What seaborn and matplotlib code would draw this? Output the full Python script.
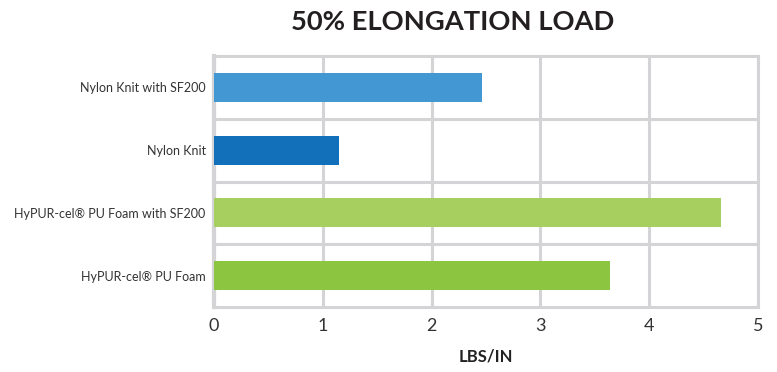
import matplotlib
matplotlib.use("Agg")
import matplotlib.pyplot as plt
import seaborn as sns
import pandas as pd
from matplotlib.ticker import FixedLocator

categories = ["Nylon Knit with SF200", "Nylon Knit", "HyPUR-cel® PU Foam with SF200", "HyPUR-cel® PU Foam"]
values = [2.46, 1.15, 4.66, 3.64]
colors = ["#4398D3", "#1270BA", "#A6CF5F", "#8CC540"]
x_ticks = [0, 1, 2, 3, 4, 5]

sns.set_theme(style="white")
plt.rcParams['font.family'] = ['Lato', 'DejaVu Sans']

df = pd.DataFrame({"category": categories, "value": values})

fig = plt.figure(figsize=(7.77, 3.72), dpi=100)
ax = fig.add_axes([214/777, 1-307/372, (758-214)/777, (307-56)/372])

sns.barplot(data=df, x="value", y="category", hue="category", palette=colors,
            width=0.46, legend=False, ax=ax, zorder=3, saturation=1, linewidth=0)

grid_c = "#D4D4D6"
ax.set_xlim(0, 5)
ax.set_ylim(3.5, -0.5)
ax.set_xticks(x_ticks)
ax.set_xticklabels([str(t) for t in x_ticks], fontsize=13, color="#333333")
ax.yaxis.set_minor_locator(FixedLocator([0.5, 1.5, 2.5]))
ax.grid(axis="x", which="major", color=grid_c, linewidth=2.2, zorder=0)
ax.grid(axis="y", which="minor", color=grid_c, linewidth=2.2, zorder=0)
ax.grid(axis="y", which="major", visible=False)
for s in ax.spines.values():
    s.set_color(grid_c)
    s.set_linewidth(2.2)
ax.spines["left"].set_linewidth(3)
ax.tick_params(axis="both", which="both", length=0)
ax.tick_params(axis="x", pad=8)
ax.tick_params(axis="y", pad=6, labelsize=9, labelcolor="#333333")
ax.set_ylabel("")
ax.set_xlabel("LBS/IN", fontsize=12, fontweight="bold", color="#222222", labelpad=10)

fig.text(453/777, 1-22/372, "50% ELONGATION LOAD", ha="center", va="center",
         fontsize=19.7, fontweight="bold", color="#231F20")

fig.savefig("out.png", dpi=100)
